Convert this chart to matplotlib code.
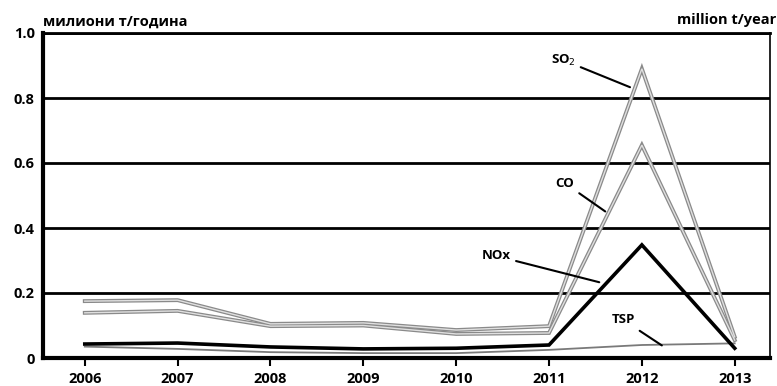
import numpy as np
import matplotlib.pyplot as plt
from matplotlib.ticker import FixedLocator, FixedFormatter

# Datos (millones t/año)
anios = [2006, 2007, 2008, 2009, 2010, 2011, 2012, 2013]
so2 = [0.175, 0.178, 0.105, 0.108, 0.086, 0.098, 0.89, 0.065]
co = [0.139, 0.145, 0.098, 0.100, 0.074, 0.077, 0.655, 0.055]
nox = [0.043, 0.046, 0.034, 0.028, 0.030, 0.040, 0.348, 0.030]
tsp = [0.035, 0.028, 0.018, 0.015, 0.015, 0.025, 0.040, 0.045]

y_ticks = [0, 0.2, 0.4, 0.6, 0.8, 1.0]
y_labels = ["0", "0.2", "0.4", "0.6", "0.8", "1.0"]

plt.rcParams['font.family'] = ['Open Sans', 'DejaVu Sans']

fig = plt.figure(figsize=(7.77, 3.86), dpi=100, facecolor='white')
ax = fig.add_axes([43/777, 1 - 358/386, (770 - 43)/777, (358 - 33)/386])

# Rejilla horizontal negra
for yv in y_ticks[1:]:
    ax.axhline(yv, color='black', lw=2.0, zorder=1)

# Líneas grises "huecas" (SO2 y CO)
for serie in (so2, co):
    ax.plot(anios, serie, color='#8a8a8a', lw=2.8, zorder=2, solid_joinstyle='miter')
    ax.plot(anios, serie, color='#e0e0e0', lw=1.0, zorder=3, solid_joinstyle='miter')
ax.plot(anios, tsp, color='#7a7a7a', lw=1.3, zorder=3)
ax.plot(anios, nox, color='black', lw=2.6, zorder=4, solid_joinstyle='miter')

ax.set_xlim(2005.55, 2013.38)
ax.set_ylim(0, 1.0)

ax.yaxis.set_major_locator(FixedLocator(y_ticks))
ax.yaxis.set_major_formatter(FixedFormatter(y_labels))
ax.set_xticks(anios)
ax.set_xticklabels([str(a) for a in anios])
ax.tick_params(axis='y', length=0, pad=6, labelsize=10.5)
ax.tick_params(axis='x', length=6, width=1.5, direction='out', pad=4, labelsize=10.5)
for lab in ax.get_xticklabels() + ax.get_yticklabels():
    lab.set_fontweight('bold')

ax.spines['left'].set_linewidth(3)
ax.spines['bottom'].set_linewidth(3)
ax.spines['top'].set_linewidth(2)
ax.spines['right'].set_linewidth(1.2)

# Etiquetas de series con líneas guía
kw = dict(arrowprops=dict(arrowstyle='-', color='black', lw=1.5),
          fontsize=9.5, fontweight='bold', va='center', ha='center')
ax.annotate("SO$_2$", xy=(2011.90, 0.83), xytext=(2011.15, 0.917), **kw)
ax.annotate("CO", xy=(2011.63, 0.446), xytext=(2011.17, 0.538), **kw)
ax.annotate("NOx", xy=(2011.57, 0.231), xytext=(2010.43, 0.314), **kw)
ax.annotate("TSP", xy=(2012.24, 0.034), xytext=(2011.80, 0.117), **kw)

fig.text(43/777, 1 - 22/386, "милиони т/година", fontsize=10.5, fontweight='bold',
         va='center', ha='left')
fig.text(776/777, 1 - 20/386, "million t/year", fontsize=10.5, fontweight='bold',
         va='center', ha='right')

plt.savefig("out.png", dpi=100)
